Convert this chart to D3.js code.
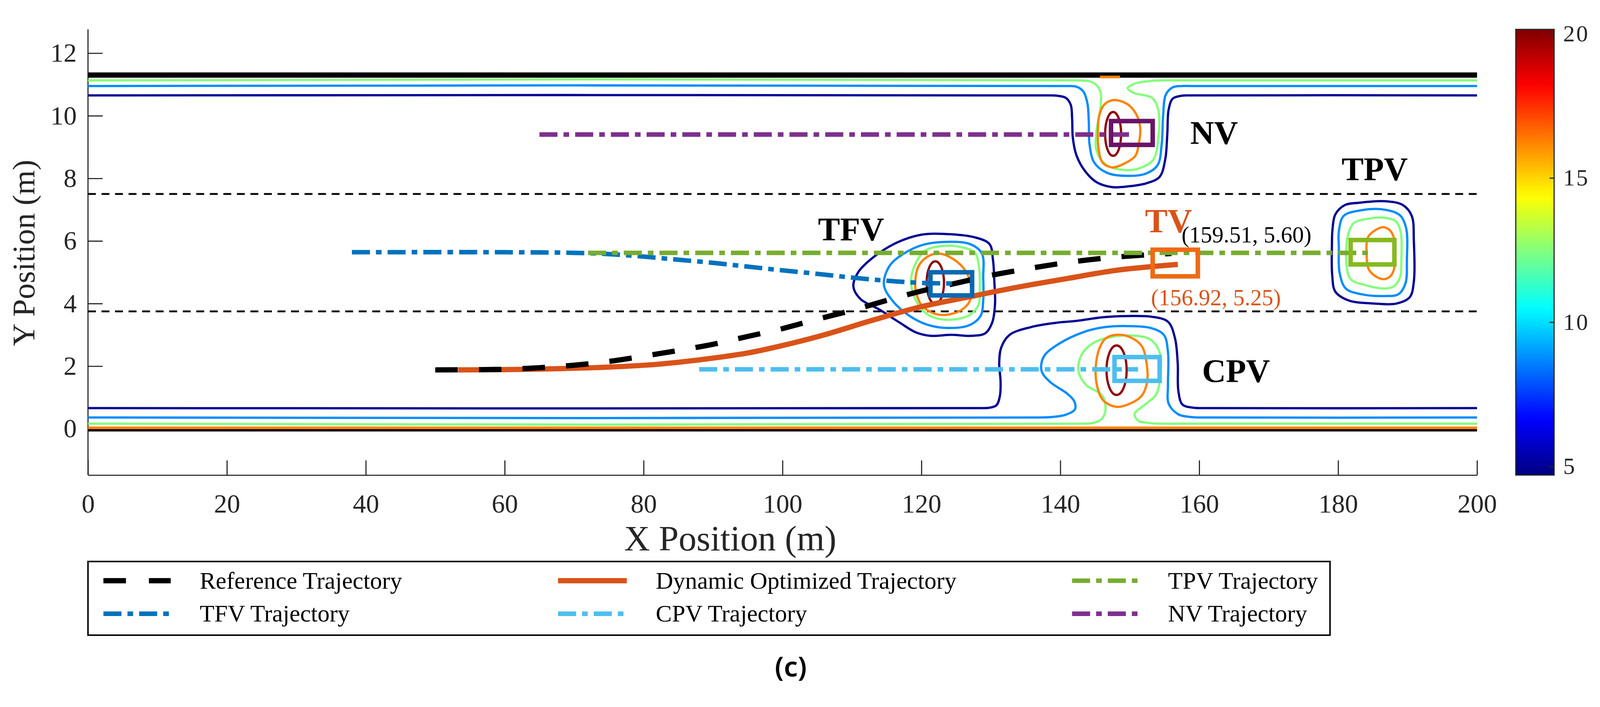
<!DOCTYPE html>
<html>
<head>
<meta charset="UTF-8">
<title>Risk field and trajectories</title>
<script src="https://d3js.org/d3.v7.min.js"></script>
<style>
  html, body { margin: 0; padding: 0; width: 100%; height: 100%; overflow: hidden; background: #fff; }
  #chart { display: block; width: 100vw; height: 100vh; }
  text { font-family: "Liberation Serif", "Times New Roman", serif; }
  .axis path, .axis line { stroke: #262626; stroke-width: 3; }
  .axis text { fill: #262626; font-size: 70px; font-family: "Liberation Serif", serif; }
  .cbar text { fill: #262626; font-size: 62px; letter-spacing: 4px; font-family: "Liberation Serif", serif; }
  .cbar path, .cbar line { stroke: #262626; stroke-width: 3; }
</style>
</head>
<body>
<svg id="chart" viewBox="0 0 4255 1811" preserveAspectRatio="xMidYMid meet"></svg>
<script>
// ---- data (metres) ----
const xTicks = [0, 20, 40, 60, 80, 100, 120, 140, 160, 180, 200];
const yTicks = [0, 2, 4, 6, 8, 10, 12];
const cbarTicks = [5, 10, 15, 20];
const cbarRange = [4.7, 20.15];
const laneLines = [7.5, 3.75];
const roadTop = 11.3, roadBottom = -0.04;

// contour levels: navy, blue, green, orange, dark red
const levels = [5, 8.75, 12.5, 16.25, 19.9];

// contours that merge with the road edges (open)
const topNavy = [[0,10.65],[138,10.65],[139.5,10.64],[140.8,10.57],[141.5,10.35],[141.7,9.9],[141.8,9.3],[142.3,8.75],[143.5,8.25],[145.2,7.88],[147.5,7.72],[150,7.75],[152.5,7.85],[154.3,8.05],[155.1,8.6],[155.4,9.4],[155.6,10.2],[156.2,10.55],[157.5,10.64],[159,10.65],[200,10.65]];
const topBlue = [[0,10.95],[140.5,10.95],[142.3,10.93],[143.3,10.78],[143.9,10.4],[144.1,9.8],[144.2,9.1],[144.9,8.5],[146.8,8.17],[149.5,8.08],[152.3,8.15],[154.0,8.42],[154.6,9.1],[154.8,10.0],[155.2,10.68],[156.2,10.91],[157.5,10.95],[159,10.95],[200,10.95]];
const topGreen = [[0,11.13],[142.5,11.13],[144.2,11.1],[145.1,11.0],[145.8,10.75],[145.8,10.3],[145.2,9.5],[145.2,8.9],[146.5,8.45],[149,8.27],[151.5,8.33],[153.4,8.6],[154.1,9.3],[154.1,10.2],[153.2,10.57],[150.6,10.73],[149.7,10.88],[150.9,11.04],[153,11.11],[155,11.13],[157,11.13],[200,11.13]];
const botNavy = [[0,0.66],[128,0.66],[129.7,0.67],[130.8,0.75],[131.3,1.05],[131.4,1.5],[131.2,2.1],[131.5,2.6],[132.7,3.0],[135.8,3.25],[139.2,3.38],[142.5,3.45],[146,3.56],[149.6,3.6],[153.1,3.58],[155.5,3.42],[156.5,2.9],[156.9,2.1],[157.0,1.2],[157.6,0.77],[159.3,0.67],[161,0.66],[200,0.66]];
const botBlue = [[0,0.36],[137,0.36],[139,0.38],[140.8,0.45],[142.1,0.62],[142.0,0.88],[141.0,1.12],[138.5,1.5],[137.3,1.85],[137.6,2.3],[139.7,2.7],[143.5,3.1],[146.5,3.25],[149.6,3.28],[153,3.22],[154.9,3.0],[155.5,2.45],[155.5,1.4],[155.6,0.8],[157,0.46],[159,0.37],[161,0.36],[200,0.36]];
const botGreen = [[0,0.16],[142.5,0.16],[144.8,0.19],[145.9,0.3],[146.5,0.6],[146.0,1.07],[143.7,1.4],[142.6,1.85],[143.1,2.38],[144.9,2.76],[147.3,2.93],[150,2.98],[152.9,2.86],[154.3,2.44],[154.4,1.7],[153.8,1.1],[152,0.74],[150.7,0.48],[151.2,0.26],[153,0.18],[155,0.16],[157,0.16],[200,0.16]];
const botOrange = [[0,0.03],[200,0.03]];
const topOrangeBit = [[145.7,11.24],[148.6,11.24]];

// closed contours around vehicles
const nvOrange = [[147.6,10.5],[149.6,10.38],[150.9,10.06],[151.5,9.62],[151.3,9.1],[150.8,8.72],[149.2,8.47],[147.5,8.35],[146.1,8.5],[145.5,8.95],[145.4,9.5],[145.6,10.0],[146.3,10.35]];
const tfvNavy = [[110.2,4.55],[110.9,5.0],[113.2,5.5],[116.5,5.95],[120,6.2],[123.7,6.22],[127.6,6.12],[129.8,5.9],[130.3,5.4],[130.5,4.7],[130.6,4.0],[130.2,3.4],[129.2,3.05],[127.2,2.97],[124.3,3.0],[121.3,2.97],[119.2,3.08],[116.8,3.4],[114,3.8],[111.2,4.15]];
const tfvBlue = [[114.6,4.6],[115.4,5.2],[117.5,5.6],[120.3,5.88],[123.5,5.97],[127,5.9],[128.7,5.6],[128.9,4.8],[128.9,4.1],[128.5,3.6],[126.8,3.3],[123.7,3.22],[120.9,3.32],[118.2,3.62],[115.8,4.1]];
const tfvGreen = [[118.5,4.72],[119.2,5.3],[120.6,5.7],[123,5.84],[125.8,5.8],[127.7,5.62],[128.3,5.15],[128.4,4.45],[128.2,3.95],[126.8,3.62],[123.7,3.48],[120.9,3.65],[119.2,4.1]];
const tfvOrange = [[119.1,4.65],[119.6,5.2],[120.9,5.5],[122.5,5.6],[124.6,5.42],[126.4,5.03],[127.1,4.6],[127,4.1],[125.8,3.8],[123.6,3.64],[121.6,3.7],[120,3.96],[119.3,4.3]];
const cpvOrange = [[148,3.0],[150,2.93],[151.7,2.65],[152.4,2.12],[152.5,1.5],[151.7,1.05],[150,0.8],[148.1,0.7],[146.2,0.9],[145.3,1.36],[145.1,1.97],[145.6,2.55],[146.5,2.88]];
const tpvNavy = [[179.2,6.4],[179.6,6.85],[181,7.15],[183,7.22],[186.7,7.27],[189.3,7.15],[190.6,6.8],[190.9,6.0],[190.9,4.7],[190.3,4.2],[188.4,4.0],[185.2,4.0],[181.5,4.1],[179.6,4.38],[179.15,4.9],[179.1,5.8]];
const tpvBlue = [[180.1,6.3],[180.8,6.8],[183.3,6.98],[186.7,7.0],[188.9,6.82],[189.8,6.4],[189.9,5.4],[189.7,4.65],[188.7,4.3],[186.7,4.24],[183.3,4.3],[181.1,4.48],[180.2,5.0],[180.1,5.8]];
const tpvGreen = [[181.3,6.07],[182.2,6.56],[184.6,6.72],[186.7,6.74],[188.3,6.63],[189.0,6.3],[189.1,5.38],[188.9,4.83],[188.0,4.55],[186.7,4.48],[183.9,4.59],[181.8,4.78],[181.2,5.24],[181.2,5.84]];
const tpvOrange = [[184.3,6.12],[185.4,6.35],[186.5,6.44],[187.4,6.35],[188.0,6.12],[188.1,5.56],[188.0,5.06],[187.4,4.85],[186.5,4.78],[185.4,4.87],[184.4,5.1],[184.1,5.56]];

// peak ellipses: [cx, cy, rx, ry]
const peakNV = [147.6, 9.42, 1.15, 0.7];
const peakTFV = [122.0, 4.67, 1.25, 0.68];
const peakCPV = [148.1, 1.87, 1.45, 0.79];

// trajectories
const refTraj = [[50,1.88],[60,1.9],[65,1.95],[70,2.03],[75,2.15],[80,2.32],[85,2.5],[90,2.7],[95,2.95],[100,3.2],[105,3.5],[110,3.78],[115,4.1],[120,4.4],[125,4.65],[130,4.9],[135,5.1],[140,5.28],[145,5.42],[150,5.52],[156,5.6]];
const dynTraj = [[53.3,1.88],[60,1.89],[68,1.92],[75,1.97],[82,2.06],[88,2.2],[95,2.42],[100,2.66],[106,3.0],[113,3.47],[120,3.9],[127,4.22],[134,4.53],[141,4.8],[148,5.06],[156.92,5.25]];
const tfvTraj = [[38,5.64],[60,5.64],[70,5.62],[75,5.58],[80,5.5],[85,5.4],[90,5.3],[95,5.18],[100,5.06],[105,4.95],[110,4.83],[115,4.73],[120,4.66],[124.6,4.64]];
const cpvTraj = [[88,1.9],[151.2,1.9]];
const tpvTraj = [[72,5.62],[184.5,5.62]];
const nvTraj = [[65,9.4],[150.4,9.4]];

// vehicle boxes: [x0, x1, y0, y1]
const boxNV = [147.3, 153.3, 9.07, 9.83];
const boxTFV = [121.3, 127.3, 4.26, 5.0];
const boxCPV = [147.8, 154.3, 1.53, 2.29];
const boxTV = [153.3, 159.8, 4.87, 5.72];
const boxTPV = [181.8, 188.1, 5.25, 6.03];

const legendNames = ["Reference Trajectory", "Dynamic Optimized Trajectory", "TPV Trajectory",
                     "TFV Trajectory", "CPV Trajectory", "NV Trajectory"];

// ---- setup ----
const svg = d3.select("#chart");
svg.append("rect").attr("width", 4255).attr("height", 1811).attr("fill", "#fff");

const x = d3.scaleLinear().domain([0, 200]).range([234, 3928]);
const y = d3.scaleLinear().domain([-1.48, 12.76]).range([1229, 43]);

function jet(t) {
    const c = v => Math.max(0, Math.min(1, v));
    return d3.rgb(255 * c(1.5 - Math.abs(4 * t - 3)), 255 * c(1.5 - Math.abs(4 * t - 2)), 255 * c(1.5 - Math.abs(4 * t - 1))).formatHex();
}
const cval = d3.scaleLinear().domain(cbarRange).range([0, 1]);
const levelColor = levels.map(v => jet(cval(v)));

const openLine = d3.line().x(d => x(d[0])).y(d => y(d[1])).curve(d3.curveCatmullRom.alpha(0.5));
const closedLine = d3.line().x(d => x(d[0])).y(d => y(d[1])).curve(d3.curveCatmullRomClosed.alpha(0.5));
const straight = d3.line().x(d => x(d[0])).y(d => y(d[1]));

const C = { nvPurple: "#7E2F8E", nvBox: "#6a1468", tfv: "#0072BD", tfvBox: "#0a68b0", cpv: "#4DBEEE",
            tpv: "#77AC30", tpvBox: "#86b91e", dyn: "#D95319", tvBox: "#ee6a12" };
const dashDot = "48,16,15,16";
const serif = "'Liberation Serif', 'Times New Roman', serif";

// ---- axes ----
const gx = svg.append("g").attr("class", "axis").attr("transform", "translate(0,1229)")
    .call(d3.axisBottom(x).tickValues(xTicks).tickSizeInner(-39).tickSizeOuter(0).tickPadding(50));
const gy = svg.append("g").attr("class", "axis").attr("transform", "translate(234,0)")
    .call(d3.axisLeft(y).tickValues(yTicks).tickSizeInner(-39).tickSizeOuter(0).tickPadding(30));
gy.select(".domain").attr("d", `M0,${1229}V${43}`);
svg.selectAll(".axis text").style("font-family", serif).style("font-size", "70px");

svg.append("text").attr("x", 63).attr("y", 638).attr("transform", "rotate(-90,63,638)")
    .attr("text-anchor", "middle").attr("dominant-baseline", "central")
    .attr("font-size", 84).attr("fill", "#262626").text("Y Position (m)");
svg.append("text").attr("x", 1942).attr("y", 1430).attr("text-anchor", "middle")
    .attr("font-size", 95).attr("fill", "#262626").text("X Position (m)");

// ---- lane markings ----
svg.append("g").selectAll("line").data(laneLines).join("line")
    .attr("x1", x(0)).attr("x2", x(200)).attr("y1", d => y(d)).attr("y2", d => y(d))
    .attr("stroke", "#000").attr("stroke-width", 5).attr("stroke-dasharray", "21,15");

// ---- contours ----
const gc = svg.append("g").attr("fill", "none").attr("stroke-width", 6);
const openContours = [[topNavy, 0], [topBlue, 1], [topGreen, 2], [botNavy, 0], [botBlue, 1], [botGreen, 2]];
gc.selectAll("path.open").data(openContours).join("path").attr("class", "open")
    .attr("d", d => openLine(d[0])).attr("stroke", d => levelColor[d[1]]);
const closedContours = [[nvOrange, 3], [tfvNavy, 0], [tfvBlue, 1], [tfvGreen, 2], [tfvOrange, 3],
    [cpvOrange, 3], [tpvNavy, 0], [tpvBlue, 1], [tpvGreen, 2], [tpvOrange, 3]];
gc.selectAll("path.closed").data(closedContours).join("path").attr("class", "closed")
    .attr("d", d => closedLine(d[0])).attr("stroke", d => levelColor[d[1]]);
gc.selectAll("ellipse").data([peakNV, peakTFV, peakCPV]).join("ellipse")
    .attr("cx", d => x(d[0])).attr("cy", d => y(d[1]))
    .attr("rx", d => x(d[0] + d[2]) - x(d[0])).attr("ry", d => y(d[1] - d[3]) - y(d[1]))
    .attr("stroke", levelColor[4]);

// road edges
svg.append("path").attr("d", straight([[0, roadBottom], [200, roadBottom]])).attr("stroke", "#000").attr("stroke-width", 8);
svg.append("path").attr("d", straight(botOrange)).attr("stroke", levelColor[3]).attr("stroke-width", 7);
svg.append("path").attr("d", straight([[0, roadTop], [200, roadTop]])).attr("stroke", "#000").attr("stroke-width", 14);
svg.append("path").attr("d", straight(topOrangeBit)).attr("stroke", levelColor[3]).attr("stroke-width", 7);

// ---- trajectories ----
const gt = svg.append("g").attr("fill", "none");
gt.append("path").attr("d", openLine(dynTraj)).attr("stroke", C.dyn).attr("stroke-width", 14);
gt.append("path").attr("d", openLine(refTraj)).attr("stroke", "#000").attr("stroke-width", 14).attr("stroke-dasharray", "60,56");
gt.append("path").attr("d", openLine(tfvTraj)).attr("stroke", C.tfv).attr("stroke-width", 12).attr("stroke-dasharray", dashDot);
gt.append("path").attr("d", straight(cpvTraj)).attr("stroke", C.cpv).attr("stroke-width", 12).attr("stroke-dasharray", dashDot);
gt.append("path").attr("d", straight(nvTraj)).attr("stroke", C.nvPurple).attr("stroke-width", 12).attr("stroke-dasharray", dashDot);
gt.append("path").attr("d", straight(tpvTraj)).attr("stroke", C.tpv).attr("stroke-width", 12).attr("stroke-dasharray", dashDot);

// ---- vehicles ----
const boxes = [[boxNV, C.nvBox], [boxTFV, C.tfvBox], [boxCPV, C.cpv], [boxTV, C.tvBox], [boxTPV, C.tpvBox]];
svg.append("g").selectAll("rect").data(boxes).join("rect")
    .attr("x", d => x(d[0][0])).attr("width", d => x(d[0][1]) - x(d[0][0]))
    .attr("y", d => y(d[0][3])).attr("height", d => y(d[0][2]) - y(d[0][3]))
    .attr("fill", "none").attr("stroke", d => d[1]).attr("stroke-width", 12);

// ---- annotations ----
const notes = [
    { t: "NV", px: 158.7, py: 9.09, size: 88, w: "bold", c: "#000" },
    { t: "TPV", px: 180.5, py: 7.94, size: 88, w: "bold", c: "#000" },
    { t: "TFV", px: 105.1, py: 6.01, size: 88, w: "bold", c: "#000" },
    { t: "CPV", px: 160.4, py: 1.49, size: 88, w: "bold", c: "#000" },
    { t: "TV", px: 152.2, py: 6.28, size: 90, w: "bold", c: C.dyn },
    { t: "(159.51, 5.60)", px: 157.45, py: 5.95, size: 61, w: "normal", c: "#000" },
    { t: "(156.92, 5.25)", px: 153.05, py: 3.94, size: 61, w: "normal", c: C.dyn }
];
svg.append("g").selectAll("text").data(notes).join("text")
    .attr("x", d => x(d.px)).attr("y", d => y(d.py))
    .attr("font-size", d => d.size).attr("font-weight", d => d.w).attr("fill", d => d.c)
    .text(d => d.t);

// ---- colorbar ----
const cb = { x0: 4031, x1: 4133 };
const grad = svg.append("defs").append("linearGradient").attr("id", "jet")
    .attr("x1", 0).attr("y1", 1).attr("x2", 0).attr("y2", 0);
d3.range(0, 1.0001, 0.02).forEach(t => grad.append("stop").attr("offset", t).attr("stop-color", jet(t)));
svg.append("rect").attr("x", cb.x0).attr("y", 43).attr("width", cb.x1 - cb.x0).attr("height", 1229 - 43)
    .attr("fill", "url(#jet)").attr("stroke", "#262626").attr("stroke-width", 3);
const cs = d3.scaleLinear().domain(cbarRange).range([1229, 43]);
const gcb = svg.append("g").attr("class", "cbar").attr("transform", `translate(${cb.x1},0)`)
    .call(d3.axisRight(cs).tickValues(cbarTicks).tickSizeInner(-12).tickSizeOuter(0).tickPadding(24));
gcb.select(".domain").remove();
gcb.selectAll("text").style("font-family", serif).style("font-size", "62px");

// ---- legend ----
const lg = svg.append("g");
lg.append("rect").attr("x", 234).attr("y", 1459).attr("width", 3537 - 234).attr("height", 1655 - 1459)
    .attr("fill", "#fff").attr("stroke", "#000").attr("stroke-width", 4);
const legendStyle = [
    { c: "#000", w: 14, dash: "60,61" }, { c: C.dyn, w: 14, dash: null }, { c: C.tpv, w: 12, dash: dashDot },
    { c: C.tfv, w: 12, dash: dashDot }, { c: C.cpv, w: 12, dash: dashDot }, { c: C.nvPurple, w: 12, dash: dashDot }
];
const colX = [[275, 454, 531], [1484, 1667, 1744], [2851, 3033, 3106]];
const rowY = [1510, 1598];
legendNames.forEach((name, i) => {
    const col = colX[i % 3], ry = rowY[Math.floor(i / 3)], s = legendStyle[i];
    lg.append("line").attr("x1", col[0]).attr("x2", col[1]).attr("y1", ry).attr("y2", ry)
        .attr("stroke", s.c).attr("stroke-width", s.w).attr("stroke-dasharray", s.dash);
    lg.append("text").attr("x", col[2]).attr("y", ry + 21).attr("font-size", 64).attr("fill", "#000").text(name);
});

svg.append("text").attr("x", 2103).attr("y", 1765).attr("text-anchor", "middle")
    .style("font-family", "'Noto Sans', sans-serif").style("font-weight", 600)
    .attr("font-size", 74).attr("fill", "#000").text("(c)");
</script>
</body>
</html>
